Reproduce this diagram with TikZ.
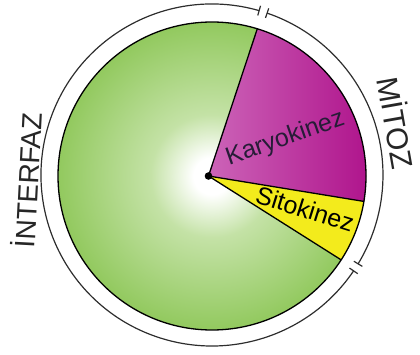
\documentclass[tikz,border=0pt]{standalone}
\usepackage{fontspec}
\setmainfont{Liberation Sans}
\usetikzlibrary{calc}
\definecolor{pgreen}{RGB}{136,196,80}
\definecolor{pgreenlt}{RGB}{196,226,166}
\definecolor{magL}{RGB}{204,100,184}
\definecolor{magR}{RGB}{174,16,138}
\definecolor{pyellow}{RGB}{243,235,28}
\definecolor{ringcol}{RGB}{45,45,45}
\definecolor{txtdark}{RGB}{38,28,55}
\pgfdeclareradialshading{greenrad}{\pgfpoint{0bp}{0bp}}{%
  color(0bp)=(white); color(3bp)=(white); color(10bp)=(pgreenlt); color(28bp)=(pgreen); color(50bp)=(pgreen)}
\tikzset{
  outline/.style={draw=black, line width=1.3pt},
  ringline/.style={draw=ringcol, line width=1.2pt},
  tick/.style={draw=ringcol, line width=1.2pt},
  slicetext/.style={font=\fontsize{25}{25}\selectfont, text=txtdark, anchor=base, inner sep=0pt},
  sidetext/.style={font=\fontsize{28}{28}\selectfont, text=black!85, anchor=base, inner sep=0pt}
}
\begin{document}
\begin{tikzpicture}[x=1pt,y=1pt]
\useasboundingbox (0,0) rectangle (420,354);
% centers
\coordinate (C) at (212,178);
\coordinate (A) at (208.5,178);
\coordinate (O) at (212,179);
\coordinate (P1) at ($(C)+(72.9:154)$);
\coordinate (P2) at ($(C)+(-9.5:154)$);
\coordinate (P3) at ($(C)+(-33:154)$);
% green pie with radial shading
\shade[shading=greenrad] (C) circle[radius=154];
% magenta slice
\shade[left color=magL, right color=magR] (A) -- (P1) arc[start angle=72.9, end angle=-9.5, radius=154] -- cycle;
% yellow slice
\fill[pyellow] (A) -- (P2) arc[start angle=-9.5, end angle=-33, radius=154] -- cycle;
% outlines
\draw[outline] (C) circle[radius=154];
\draw[outline] (A) -- (P1);
\draw[outline] (A) -- (P2);
\draw[outline] (A) -- (P3);
\fill[black] (A) circle[radius=3.8];
% outer ring with breaks
\draw[ringline] ($(O)+(-31.3:171)$) arc[start angle=-31.3, end angle=71.2, radius=171];
\draw[ringline] ($(O)+(74.0:171)$) arc[start angle=74.0, end angle=325.9, radius=171];
\coordinate (t1a) at ($(O)+(71.2:166)$); \coordinate (t1b) at ($(O)+(71.2:176)$);
\coordinate (t2a) at ($(O)+(74.0:166)$); \coordinate (t2b) at ($(O)+(74.0:176)$);
\coordinate (t3a) at ($(O)+(-31.3:166)$); \coordinate (t3b) at ($(O)+(-31.3:176)$);
\coordinate (t4a) at ($(O)+(-34.1:166)$); \coordinate (t4b) at ($(O)+(-34.1:176)$);
\draw[tick] (t1a) -- (t1b);
\draw[tick] (t2a) -- (t2b);
\draw[tick] (t3a) -- (t3b);
\draw[tick] (t4a) -- (t4b);
% labels
\node[slicetext, rotate=19.2] (kar) at (287.5,209) {Karyokinez};
\node[slicetext, rotate=-17.4, text=black] (sit) at (302.5,136.5) {Sitokinez};
\node[sidetext, rotate=87] (int) at (38.5,173) {İNTERFAZ};
\node[sidetext, rotate=-80, font=\fontsize{30}{30}\selectfont] (mit) at (385,229) {MİTOZ};
\end{tikzpicture}
\end{document}
